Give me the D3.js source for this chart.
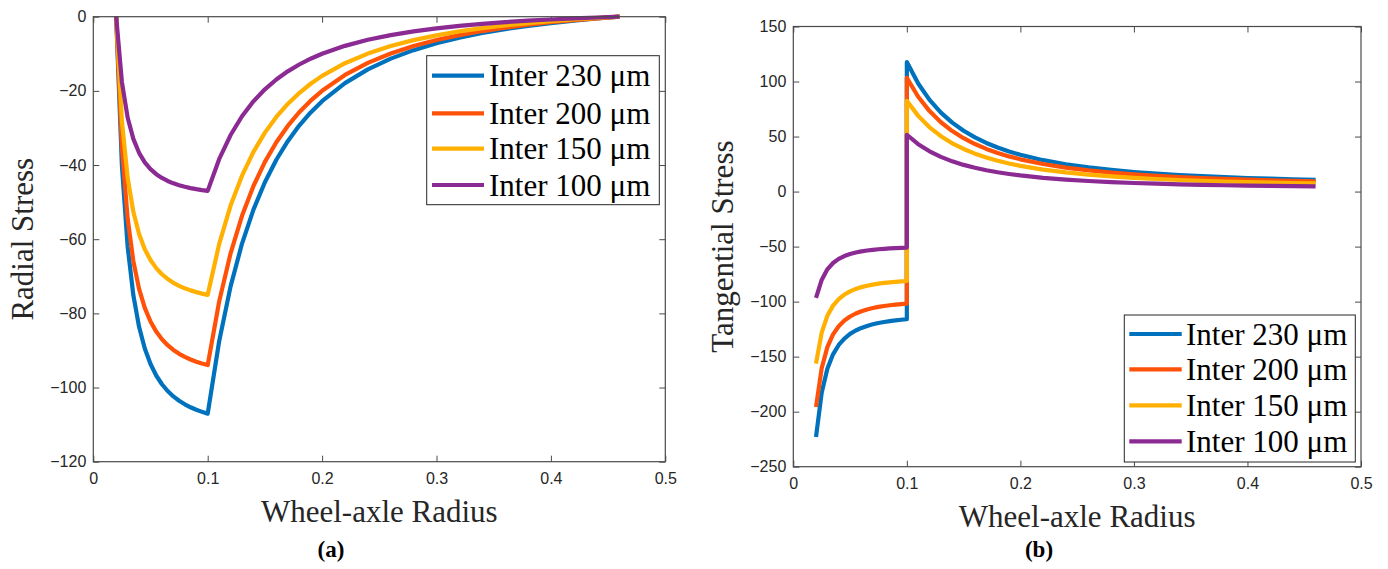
<!DOCTYPE html>
<html>
<head>
<meta charset="utf-8">
<script src="https://cdn.jsdelivr.net/npm/d3@7"></script>
<style>
  html, body { margin: 0; padding: 0; background: #fff; }
  svg { display: block; }
</style>
</head>
<body>
<svg id="chart" width="1388" height="569"></svg>
<script>
// ---------------- DATA ----------------
const seriesLabels = ["Inter 230 μm", "Inter 200 μm", "Inter 150 μm", "Inter 100 μm"];
const seriesColors = ["#0072BD", "#FF5208", "#FFB000", "#8B2A92"];

const rInner = [0.02, 0.025, 0.03, 0.035, 0.04, 0.045, 0.05, 0.055, 0.06, 0.065, 0.07, 0.075, 0.08, 0.085, 0.09, 0.095, 0.10];
const rOuter = [0.10, 0.11, 0.12, 0.13, 0.14, 0.15, 0.16, 0.17, 0.18, 0.19, 0.20, 0.22, 0.24, 0.26, 0.28, 0.30, 0.32, 0.34, 0.36, 0.38, 0.40, 0.42, 0.44, 0.46];

// Radial stress (panel a): inner points then outer points (after 0.10)
const radial230 = [0, -40.14, -61.95, -75.10, -83.63, -89.48, -93.66, -96.76, -99.11, -100.94, -102.40, -103.57, -104.53, -105.32, -105.99, -106.56, -107.04,
  -87.55, -72.71, -61.18, -52.02, -44.63, -38.58, -33.57, -29.37, -25.81, -22.78, -17.91, -14.20, -11.31, -9.02, -7.17, -5.66, -4.41, -3.36, -2.47, -1.71, -1.06, -0.49, 0];
const radial200 = [0, -35.23, -54.37, -65.91, -73.40, -78.53, -82.20, -84.92, -86.99, -88.59, -89.87, -90.90, -91.74, -92.44, -93.03, -93.52, -93.95,
  -76.83, -63.81, -53.69, -45.65, -39.16, -33.86, -29.46, -25.77, -22.65, -19.99, -15.71, -12.46, -9.93, -7.92, -6.30, -4.97, -3.87, -2.95, -2.17, -1.50, -0.93, -0.43, 0];
const radial150 = [0, -28.13, -43.41, -52.62, -58.60, -62.70, -65.63, -67.80, -69.45, -70.73, -71.75, -72.57, -73.25, -73.80, -74.27, -74.67, -75.00,
  -61.34, -50.94, -42.86, -36.44, -31.26, -27.03, -23.52, -20.58, -18.08, -15.96, -12.54, -9.95, -7.92, -6.32, -5.03, -3.97, -3.09, -2.35, -1.73, -1.20, -0.74, -0.35, 0];
const radial100 = [0, -17.61, -27.19, -32.95, -36.70, -39.27, -41.10, -42.46, -43.49, -44.30, -44.94, -45.45, -45.87, -46.22, -46.51, -46.76, -46.97,
  -38.42, -31.91, -26.84, -22.82, -19.58, -16.93, -14.73, -12.89, -11.33, -10.00, -7.86, -6.23, -4.96, -3.96, -3.15, -2.48, -1.93, -1.47, -1.08, -0.75, -0.46, -0.22, 0];

// Tangential stress (panel b): inner points then outer points (including 0.10, jump)
const tangential230 = [-223.00, -182.86, -161.05, -147.90, -139.38, -133.52, -129.34, -126.24, -123.89, -122.06, -120.60, -119.43, -118.47, -117.68, -117.01, -116.44, -115.96,
  117.67, 98.17, 83.34, 71.80, 62.64, 55.25, 49.20, 44.19, 39.99, 36.43, 33.40, 28.53, 24.82, 21.93, 19.64, 17.79, 16.28, 15.03, 13.98, 13.09, 12.33, 11.68, 11.11, 10.62];
const tangential200 = [-195.72, -160.49, -141.35, -129.81, -122.33, -117.19, -113.52, -110.80, -108.73, -107.13, -105.85, -104.82, -103.98, -103.28, -102.69, -102.20, -101.77,
  103.27, 86.15, 73.13, 63.01, 54.97, 48.48, 43.18, 38.78, 35.09, 31.97, 29.31, 25.03, 21.78, 19.25, 17.24, 15.62, 14.29, 13.19, 12.27, 11.49, 10.82, 10.25, 9.75, 9.32];
const tangential150 = [-156.26, -128.13, -112.85, -103.64, -97.66, -93.56, -90.63, -88.46, -86.81, -85.53, -84.51, -83.69, -83.01, -82.46, -81.99, -81.59, -81.26,
  82.44, 68.78, 58.38, 50.30, 43.88, 38.70, 34.47, 30.96, 28.02, 25.52, 23.40, 19.98, 17.39, 15.36, 13.76, 12.47, 11.41, 10.53, 9.79, 9.17, 8.64, 8.18, 7.79, 7.44];
const tangential100 = [-96.50, -80.25, -70.68, -64.91, -61.16, -58.59, -56.76, -55.40, -54.37, -53.56, -52.92, -52.41, -51.99, -51.64, -51.35, -51.10, -50.89,
  51.63, 43.08, 36.57, 31.50, 27.48, 24.24, 21.59, 19.39, 17.55, 15.99, 14.66, 12.52, 10.89, 9.62, 8.62, 7.81, 7.14, 6.59, 6.13, 5.74, 5.41, 5.12, 4.88, 4.66];

const xTicks = [0, 0.1, 0.2, 0.3, 0.4, 0.5];
const radialTicks = [0, -20, -40, -60, -80, -100, -120];
const tangentialTicks = [150, 100, 50, 0, -50, -100, -150, -200, -250];

// ---------------- DRAW ----------------
const svg = d3.select("#chart");
const tickFont = "'Liberation Sans', Arial, Helvetica, sans-serif";
const serifFont = "'Liberation Serif', 'Times New Roman', Times, serif";
const axisColor = "#4a4a4a";

function fmtX(d) { return d === 0 ? "0" : String(+d.toFixed(1)); }
function fmtY(d) { return d < 0 ? "\u2212" + Math.abs(d) : String(d); }

function panel(cfg) {
  const g = svg.append("g");
  const x = d3.scaleLinear().domain([0, 0.5]).range([cfg.left, cfg.right]);
  const y = d3.scaleLinear().domain(cfg.yDomain).range([cfg.bottom, cfg.top]);

  g.append("rect").attr("x", cfg.left).attr("y", cfg.top)
    .attr("width", cfg.right - cfg.left).attr("height", cfg.bottom - cfg.top)
    .attr("fill", "#fff");

  const ax = [
    { gen: d3.axisBottom(x).tickValues(xTicks).tickFormat(fmtX).tickSize(-6).tickPadding(11), tr: `translate(0,${cfg.bottom})` },
    { gen: d3.axisTop(x).tickValues(xTicks).tickFormat("").tickSize(-6), tr: `translate(0,${cfg.top})` },
    { gen: d3.axisLeft(y).tickValues(cfg.yTicks).tickFormat(fmtY).tickSize(-6).tickPadding(7), tr: `translate(${cfg.left},0)` },
    { gen: d3.axisRight(y).tickValues(cfg.yTicks).tickFormat("").tickSize(-6), tr: `translate(${cfg.right},0)` }
  ];
  ax.forEach(a => {
    const ag = g.append("g").attr("transform", a.tr).call(a.gen);
    ag.select(".domain").remove();
    ag.selectAll(".tick line").attr("stroke", axisColor).attr("stroke-width", 1);
    ag.selectAll(".tick text").attr("fill", "#262626")
      .style("font-family", tickFont).style("font-size", "16px");
  });

  const line = d3.line().x(d => x(d[0])).y(d => y(d[1])).curve(d3.curveLinear);
  cfg.series.forEach((vals, i) => {
    const pts = cfg.xs.map((xv, j) => [xv, vals[j]]);
    g.append("path").datum(pts).attr("d", line)
      .attr("fill", "none").attr("stroke", seriesColors[i])
      .attr("stroke-width", 4.2).attr("stroke-linejoin", "round").attr("stroke-linecap", "butt");
  });

  g.append("rect").attr("x", cfg.left).attr("y", cfg.top)
    .attr("width", cfg.right - cfg.left).attr("height", cfg.bottom - cfg.top)
    .attr("fill", "none").attr("stroke", axisColor).attr("stroke-width", 1.2);

  g.append("text").attr("x", (cfg.left + cfg.right) / 2).attr("y", cfg.xLabelY)
    .attr("text-anchor", "middle").style("font-family", serifFont).style("font-size", "31px")
    .attr("fill", "#262626").text("Wheel-axle Radius");
  g.append("text")
    .attr("transform", `translate(${cfg.yLabelX},${(cfg.top + cfg.bottom) / 2}) rotate(-90)`)
    .attr("text-anchor", "middle").style("font-family", serifFont).style("font-size", "31px")
    .attr("fill", "#262626").text(cfg.yLabel);

  const L = cfg.legend;
  g.append("rect").attr("x", L.x0).attr("y", L.y0).attr("width", L.x1 - L.x0).attr("height", L.y1 - L.y0)
    .attr("fill", "#fff").attr("stroke", "#262626").attr("stroke-width", 1);
  seriesLabels.forEach((lab, i) => {
    const cy = L.rows[i];
    g.append("line").attr("x1", L.lx0).attr("x2", L.lx1).attr("y1", cy).attr("y2", cy)
      .attr("stroke", seriesColors[i]).attr("stroke-width", 4.2);
    g.append("text").attr("x", L.tx).attr("y", cy + 10.5)
      .style("font-family", serifFont).style("font-size", "31px").attr("fill", "#000").text(lab);
  });

  g.append("text").attr("x", cfg.capX).attr("y", 557).attr("text-anchor", "middle")
    .style("font-family", serifFont).style("font-size", "23px").style("font-weight", "bold")
    .attr("fill", "#000").text(cfg.caption);
}

panel({
  left: 93.3, right: 665.3, top: 16.7, bottom: 461.7,
  yDomain: [-120, 0], yTicks: radialTicks,
  xs: rInner.concat(rOuter.slice(1)),
  series: [radial230, radial200, radial150, radial100],
  yLabel: "Radial Stress", yLabelX: 33, xLabelY: 522,
  legend: { x0: 426.7, y0: 55.7, x1: 659.3, y1: 204.7, lx0: 432, lx1: 484, tx: 489, rows: [75.7, 113.3, 148.7, 185] },
  caption: "(a)", capX: 331
});

panel({
  left: 793.3, right: 1361, top: 26.5, bottom: 466.7,
  yDomain: [-250, 150], yTicks: tangentialTicks,
  xs: rInner.concat(rOuter),
  series: [tangential230, tangential200, tangential150, tangential100],
  yLabel: "Tangential Stress", yLabelX: 733, xLabelY: 527,
  legend: { x0: 1124.3, y0: 315, x1: 1355.3, y1: 462, lx0: 1129.3, lx1: 1181.7, tx: 1186, rows: [334, 369.3, 405.3, 441.3] },
  caption: "(b)", capX: 1039
});
</script>
</body>
</html>
